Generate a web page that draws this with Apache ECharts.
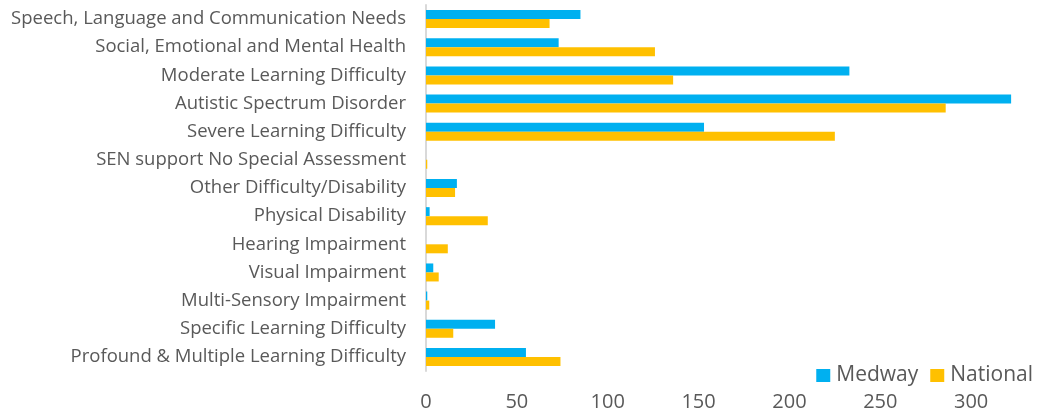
<!DOCTYPE html>
<html>
<head>
<meta charset="utf-8">
<script src="https://cdn.jsdelivr.net/npm/echarts@6/dist/echarts.min.js"></script>
<style>
html,body{margin:0;padding:0;background:#fff;}
#chart{width:1038px;height:416px;}
</style>
</head>
<body>
<div id="chart"></div>
<script>
const categories = [
  "Speech, Language and Communication Needs",
  "Social, Emotional and Mental Health",
  "Moderate Learning Difficulty",
  "Autistic Spectrum Disorder",
  "Severe Learning Difficulty",
  "SEN support No Special Assessment",
  "Other Difficulty/Disability",
  "Physical Disability",
  "Hearing Impairment",
  "Visual Impairment",
  "Multi-Sensory Impairment",
  "Specific Learning Difficulty",
  "Profound & Multiple Learning Difficulty"
];
const medway   = [85, 73, 233, 322, 153, 0, 17, 2, 0, 4, 0.7, 38, 55];
const national = [68, 126, 136, 286, 225, 0.7, 16, 34, 12, 7, 1.8, 15, 74];
const xTicks = [0, 50, 100, 150, 200, 250, 300, 350];

const FONT = '"Open Sans", sans-serif';
const chart = echarts.init(document.getElementById('chart'), null, {renderer: 'canvas'});
chart.setOption({
  animation: false,
  textStyle: {fontFamily: FONT},
  legend: {
    data: ['Medway', 'National'],
    right: 5, bottom: 30, padding: 0,
    itemWidth: 14, itemHeight: 13, itemGap: 12,
    icon: 'rect',
    textStyle: {fontSize: 21, color: '#595959', fontFamily: FONT, padding: [0, 0, 0, 1]}
  },
  grid: {left: 426, width: 636, top: 5, bottom: 45, containLabel: false, outerBoundsMode: 'none'},
  xAxis: {
    type: 'value',
    min: xTicks[0], max: xTicks[xTicks.length - 1], interval: 50,
    axisLine: {show: false},
    axisTick: {show: false},
    splitLine: {show: false},
    axisLabel: {fontSize: 20, color: '#595959', margin: 21, fontFamily: FONT}
  },
  yAxis: {
    type: 'category',
    data: categories,
    inverse: true,
    axisLine: {show: true, lineStyle: {color: '#d9d9d9', width: 2}},
    axisTick: {show: false},
    axisLabel: {fontSize: 18.5, color: '#595959', margin: 20, fontFamily: FONT}
  },
  series: [
    {name: 'Medway', type: 'bar', data: medway, barWidth: 9, barGap: '0%',
     itemStyle: {color: '#00B0F0'}},
    {name: 'National', type: 'bar', data: national, barWidth: 9, barGap: '0%',
     itemStyle: {color: '#FFC000'}}
  ]
});
</script>
</body>
</html>
